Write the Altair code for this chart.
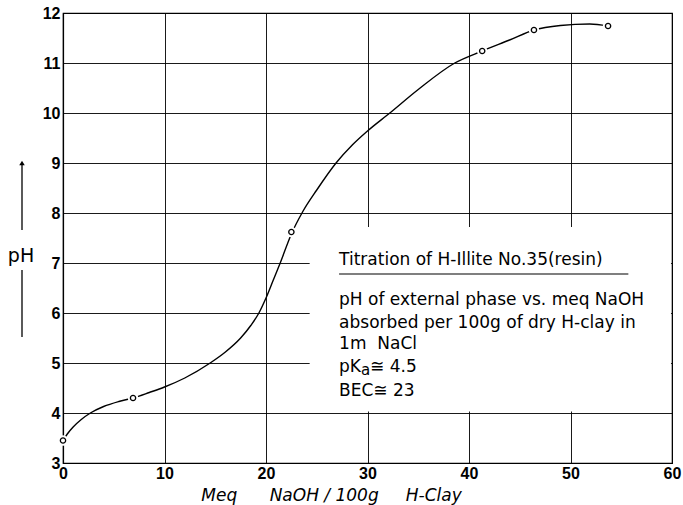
import altair as alt
import pandas as pd

# measured points (open circles)
pt_x = [0, 6.9, 22.5, 41.3, 46.4, 53.7]
pt_y = [3.45, 4.3, 7.62, 11.24, 11.66, 11.74]

# smooth titration curve
curve_x = [0, 0.5, 1, 1.8, 2.7, 4, 5.5, 6.9, 8.5, 10, 12, 14.5, 16, 17.5, 18.5, 19.3, 20,
           20.7, 21.4, 22.5, 23.6, 25, 26.9, 28.5, 30, 32.2, 35, 38.6, 41.3, 44,
           46.4, 49, 51.9, 53.7]
curve_y = [3.45, 3.6, 3.72, 3.87, 4.0, 4.13, 4.23, 4.3, 4.41, 4.52, 4.7, 5.0, 5.22, 5.5,
           5.75, 6.0, 6.3, 6.65, 7.0, 7.58, 8.02, 8.46, 9.0, 9.36, 9.64, 10.0, 10.47,
           11.0, 11.24, 11.46, 11.66, 11.75, 11.78, 11.74]

x_ticks = [0, 10, 20, 30, 40, 50, 60]
y_ticks = [3, 4, 5, 6, 7, 8, 9, 10, 11, 12]

note_lines = [
    "Titration of H-Illite No.35(resin)",
    "pH of external phase vs. meq NaOH",
    "absorbed per 100g of dry H-clay in",
    "1m\u00a0\u00a0NaCl",
    "BEC\u2245 23",
]
note_y = [7.06, 6.26, 5.8, 5.38, 4.44]
pka_y = 4.92
note_x = 27.2

FONT = "DejaVu Sans"
xs = alt.Scale(domain=[0, 60], nice=False)
ys = alt.Scale(domain=[3, 12], nice=False)

x_axis = alt.Axis(values=x_ticks, grid=True, gridColor="black", gridWidth=0.9,
                  gridOpacity=1, domainColor="black", domainWidth=1.2, ticks=False,
                  labelFont="Liberation Sans", labelFontWeight="bold", labelFontSize=16,
                  labelColor="black", labelPadding=2, labelFlush=False,
                  title="Meq\u00a0\u00a0\u00a0\u00a0\u00a0\u00a0NaOH / 100g\u00a0\u00a0\u00a0\u00a0\u00a0H-Clay",
                  titleFont=FONT, titleFontStyle="italic", titleFontWeight="normal",
                  titleFontSize=17, titleColor="black", titleX=268, titleY=37,
                  titleBaseline="alphabetic", titleAnchor="middle")
y_axis = alt.Axis(values=y_ticks, grid=True, gridColor="black", gridWidth=0.9,
                  gridOpacity=1, domainColor="black", domainWidth=1.2, ticks=False,
                  labelFont="Liberation Sans", labelFontWeight="bold", labelFontSize=16,
                  labelColor="black", labelPadding=3, labelFlush=False, title=None)

curve_df = pd.DataFrame({"x": curve_x, "y": curve_y})
pts_df = pd.DataFrame({"x": pt_x, "y": pt_y})

X = alt.X("x:Q", scale=xs)
Y = alt.Y("y:Q", scale=ys)

line = alt.Chart(curve_df).mark_line(color="black", strokeWidth=1.4, interpolate="monotone").encode(
    x=alt.X("x:Q", scale=xs, axis=x_axis),
    y=alt.Y("y:Q", scale=ys, axis=y_axis),
)

box_df = pd.DataFrame({"x": [24.3], "x2": [59.9], "y": [4.03], "y2": [7.72]})
box = alt.Chart(box_df).mark_rect(color="white").encode(x=X, x2="x2:Q", y=Y, y2="y2:Q")

gap = alt.Chart(pts_df).mark_point(shape="circle", filled=True, color="white", size=110, opacity=1).encode(
    x=X, y=Y)
circ = alt.Chart(pts_df).mark_point(shape="circle", filled=False, stroke="black", fill="white",
                                    fillOpacity=1, size=28, strokeWidth=1.3, opacity=1).encode(
    x=X, y=Y)

note_df = pd.DataFrame({"t": note_lines, "y": note_y, "x": [note_x] * len(note_lines)})
notes = alt.Chart(note_df).mark_text(align="left", baseline="middle", font=FONT,
                                     fontSize=17, color="black").encode(x=X, y=Y, text="t:N")

pka_df = pd.DataFrame({"x": [note_x], "y": [pka_y]})
pk1 = alt.Chart(pka_df).mark_text(align="left", baseline="middle", font=FONT, fontSize=17,
                                  color="black", text="pK").encode(x=X, y=Y)
pk2 = alt.Chart(pka_df).mark_text(align="left", baseline="middle", font=FONT, fontSize=15,
                                  color="black", text="a", dx=22, dy=3).encode(x=X, y=Y)
pk3 = alt.Chart(pka_df).mark_text(align="left", baseline="middle", font=FONT, fontSize=17,
                                  color="black", text="\u2245 4.5", dx=31).encode(x=X, y=Y)

ul_df = pd.DataFrame({"x": [note_x], "x2": [55.7], "y": [6.78]})
underline = alt.Chart(ul_df).mark_rule(color="black", strokeWidth=1.2).encode(x=X, x2="x2:Q", y=Y)

# y-axis label "pH" with an upward arrow (decoration, in pixels)
ph_label = alt.Chart(pd.DataFrame({"t": ["pH"]})).mark_text(
    font=FONT, fontSize=19, color="black", align="center", baseline="middle").encode(
    text="t:N", x=alt.value(-42), y=alt.value(243))
arrow_up = alt.Chart(pd.DataFrame({"a": [0]})).mark_rule(color="black", strokeWidth=1.3).encode(
    x=alt.value(-41), y=alt.value(150), y2=alt.value(217))
arrow_down = alt.Chart(pd.DataFrame({"a": [0]})).mark_rule(color="black", strokeWidth=1.3).encode(
    x=alt.value(-41), y=alt.value(257), y2=alt.value(324))
arrow_head = alt.Chart(pd.DataFrame({"a": [0]})).mark_point(
    shape="triangle-up", filled=True, color="black", size=30, opacity=1).encode(
    x=alt.value(-41), y=alt.value(150))

chart = alt.layer(line, box, gap, circ, underline, notes, pk1, pk2, pk3,
                  ph_label, arrow_up, arrow_down, arrow_head).properties(
    width=609, height=450,
    padding={"left": 63, "top": 13, "right": 11, "bottom": 42},
    autosize=alt.AutoSizeParams(type="none"),
    background="white",
).configure_view(stroke="black", strokeWidth=1.2)

chart.save("out.html", embed_options={"renderer": "svg", "actions": False})
